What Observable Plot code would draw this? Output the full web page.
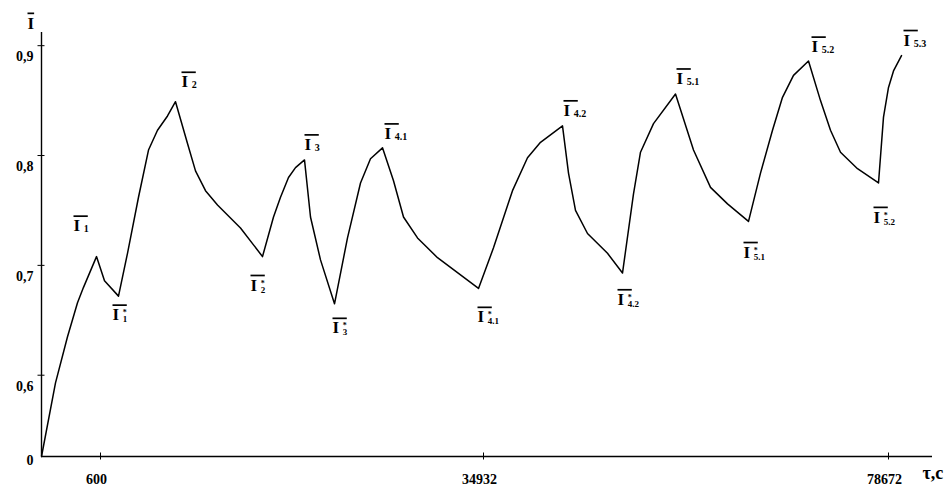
<!DOCTYPE html>
<html>
<head>
<meta charset="utf-8">
<script src="https://cdn.jsdelivr.net/npm/d3@7"></script>
<script src="https://cdn.jsdelivr.net/npm/@observablehq/plot@0.6"></script>
<style>
  body { margin: 0; background: #fff; }
</style>
</head>
<body>
<div id="chart"></div>
<script>
// Horizontal position along the (schematic) time axis, in axis reading units
const xs = [0, 14, 26, 36, 42, 55, 63, 77, 86, 97, 107, 116, 126, 134, 146, 154, 164, 176, 199, 221,
  232, 239, 247, 254, 263, 269, 279, 293, 306, 319, 329, 341, 352, 362, 376, 396, 437, 452, 471, 486,
  499, 521, 527, 534, 546, 566, 581, 592, 599, 612, 634, 652, 669, 686, 707, 719, 731, 741, 752, 767,
  779, 789, 799, 816, 837, 842, 847, 852, 860];
// Relative value Ī
const ys = [0.526, 0.593, 0.635, 0.666, 0.680, 0.708, 0.686, 0.672, 0.711, 0.762, 0.805, 0.823, 0.836, 0.849, 0.811, 0.786, 0.768, 0.755, 0.734, 0.708,
  0.744, 0.762, 0.780, 0.789, 0.796, 0.744, 0.705, 0.665, 0.725, 0.775, 0.797, 0.807, 0.777, 0.744, 0.725, 0.707, 0.679, 0.716, 0.768, 0.798,
  0.812, 0.827, 0.784, 0.750, 0.729, 0.711, 0.693, 0.765, 0.803, 0.829, 0.856, 0.805, 0.771, 0.756, 0.740, 0.784, 0.823, 0.853, 0.873, 0.886,
  0.850, 0.823, 0.803, 0.788, 0.775, 0.835, 0.862, 0.877, 0.891];

const xTickPos = [59, 442, 847];
const xTickLabels = ["600", "34932", "78672"];
const yTickVals = [0.6, 0.7, 0.8, 0.9];
const yTickLabels = ["0,6", "0,7", "0,8", "0,9"];
const yBase = 0.526;        // value at the (broken) origin of the axis
const yBaseLabel = "0";
const xMax = 891;
const yMax = 0.912;

// Curve annotations
const labelSub  = ["1", "1", "2", "2", "3", "3", "4.1", "4.1", "4.2", "4.2", "5.1", "5.1", "5.2", "5.2", "5.3"];
const labelStar = [false, true, false, true, false, true, false, true, false, true, false, true, false, true, false];
const labelX = [32, 71, 140, 209, 263, 291, 343, 436, 522, 576, 635, 702, 770, 832, 862];
const labelY = [0.731, 0.650, 0.862, 0.677, 0.805, 0.638, 0.815, 0.648, 0.836, 0.664, 0.865, 0.707, 0.894, 0.739, 0.900];

const curve = xs.map((x, i) => ({x, y: ys[i]}));
const labels = labelSub.map((s, i) => ({x: labelX[i], y: labelY[i], sub: s, star: labelStar[i]}));

const LABEL_FILL = "#010101";
const TITLE_FILL = "#020202";

const chart = Plot.plot({
  width: 946,
  height: 491,
  marginLeft: 41,
  marginRight: 14,
  marginTop: 32,
  marginBottom: 35,
  x: {domain: [0, xMax], axis: null},
  y: {domain: [yBase, yMax], axis: null},
  style: {fontFamily: "'Liberation Serif', 'Times New Roman', serif", fontWeight: "bold", fontSize: "14px", color: "#000", background: "#fff", overflow: "visible"},
  marks: [
    Plot.ruleX([0], {stroke: "#000", strokeWidth: 1.4}),
    Plot.ruleY([yBase], {stroke: "#000", strokeWidth: 1.4}),
    // y ticks crossing the axis
    Plot.axisY(yTickVals, {tickSize: 7, dx: 3.5, tickFormat: () => "", label: null, strokeWidth: 1}),
    Plot.axisY(yTickVals, {tickSize: 0, tickPadding: 8, dy: 11, label: null, tickFormat: d => yTickLabels[yTickVals.indexOf(d)]}),
    Plot.axisY([yBase], {tickSize: 0, tickPadding: 8, dy: 4, label: null, tickFormat: () => yBaseLabel}),
    // x ticks crossing the axis
    Plot.axisX(xTickPos, {tickSize: 7, dy: -3.5, tickFormat: () => "", label: null, strokeWidth: 1}),
    Plot.axisX(xTickPos, {tickSize: 0, tickPadding: 18, dx: -4, label: null, tickFormat: d => xTickLabels[xTickPos.indexOf(d)]}),
    // curve
    Plot.line(curve, {x: "x", y: "y", stroke: "#000", strokeWidth: 1.5}),
    // annotations
    Plot.text(labels, {x: "x", y: "y", text: () => "I", textAnchor: "start", lineAnchor: "bottom", fontSize: 17, fill: LABEL_FILL}),
    Plot.text(["I"], {frameAnchor: "top-left", dx: -14, dy: -4, textAnchor: "start", lineAnchor: "bottom", fontSize: 17, fill: TITLE_FILL}),
    Plot.text(["τ,c"], {frameAnchor: "bottom-right", dx: -10, dy: 22, textAnchor: "start", lineAnchor: "bottom", fontSize: 18})
  ]
});

document.getElementById("chart").appendChild(chart);

// Rich text for the Ī labels: overline, superscript star and subscript
d3.select(chart).selectAll(`g[fill="${LABEL_FILL}"] text`).each(function (_, i) {
  const d = labels[i];
  const t = d3.select(this);
  t.text(null);
  t.append("tspan").style("text-decoration", "overline").text("I\u00a0\u2009");
  if (d.star) {
    t.append("tspan").attr("font-size", 8).attr("dx", -4).attr("dy", -5).text("*");
    t.append("tspan").attr("font-size", 9).attr("dx", -4).attr("dy", 7).text(d.sub);
  } else {
    t.append("tspan").attr("font-size", 10).attr("dx", -4).attr("dy", 1).text(d.sub);
  }
});
d3.select(chart).selectAll(`g[fill="${TITLE_FILL}"] text`).each(function () {
  const t = d3.select(this);
  t.text(null);
  t.append("tspan").style("text-decoration", "overline").text("I");
});
</script>
</body>
</html>
